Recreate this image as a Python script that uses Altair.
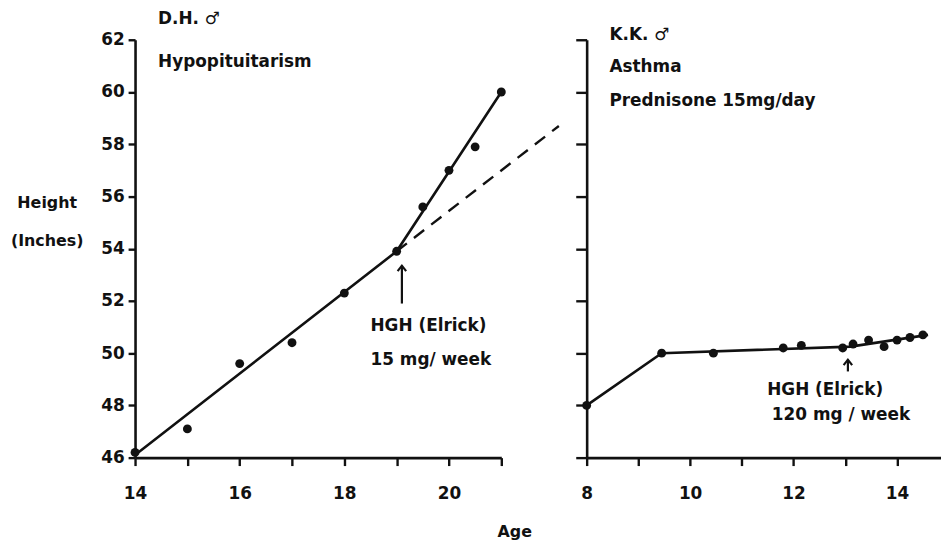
import altair as alt
import pandas as pd

# ---- data ----
left_age = [14, 15, 16, 17, 18, 19, 19.5, 20, 20.5, 21]
left_height = [46.2, 47.1, 49.6, 50.4, 52.3, 53.9, 55.6, 57.0, 57.9, 60.0]
left_fit_age = [14, 19, 21]
left_fit_height = [46.1, 53.9, 60.0]
left_proj_age = [19, 22.1]
left_proj_height = [53.9, 58.7]

right_age = [8, 9.45, 10.45, 11.8, 12.15, 12.95, 13.15, 13.45, 13.75, 14.0, 14.25, 14.5]
right_height = [48.0, 50.0, 50.0, 50.2, 50.3, 50.2, 50.35, 50.5, 50.25, 50.5, 50.6, 50.7]
right_fit_age = [8, 9.45, 13.1, 14.6]
right_fit_height = [48.0, 50.0, 50.25, 50.7]

left_arrow = {"age": [19.1], "height": [51.9], "height2": [53.35]}
right_arrow = {"age": [13.05], "height": [49.3], "height2": [49.75]}

left_notes = {
    "age": [14.44, 14.44, 18.5, 18.5],
    "height": [62.78, 61.15, 51.05, 49.72],
    "text": ["D.H. \u2642", "Hypopituitarism", "HGH (Elrick)", "15 mg/ week"],
}
right_notes = {
    "age": [8.44, 8.44, 8.44, 11.49, 11.58],
    "height": [62.2, 60.95, 59.65, 48.6, 47.64],
    "text": ["K.K. \u2642", "Asthma", "Prednisone  15mg/day", "HGH (Elrick)", "120 mg / week"],
}

y_ticks = list(range(46, 63, 2))
left_x_ticks = list(range(14, 22))
right_x_ticks = list(range(8, 15))

FONT = "DejaVu Sans"
INK = "#111111"

even_labels = "datum.value % 2 == 0 ? format(datum.value, 'd') : ''"


def panel(pts, fit, proj, arrow, notes, xdom, width, x_axis, y_axis):
    xs = alt.Scale(domain=xdom, nice=False, zero=False)
    ys = alt.Scale(domain=[46, 62], nice=False, zero=False)
    X = alt.X("age:Q", scale=xs, axis=x_axis)
    Y = alt.Y("height:Q", scale=ys, axis=y_axis)

    layers = []
    layers.append(
        alt.Chart(pd.DataFrame(fit)).mark_line(color=INK, strokeWidth=2.6).encode(x=X, y=Y)
    )
    if proj is not None:
        layers.append(
            alt.Chart(pd.DataFrame(proj))
            .mark_line(color=INK, strokeWidth=2.4, strokeDash=[13, 9], clip=False)
            .encode(x=X, y=Y)
        )
    layers.append(
        alt.Chart(pd.DataFrame(pts))
        .mark_circle(color=INK, size=80, opacity=1)
        .encode(x=X, y=Y)
    )
    adf = pd.DataFrame(arrow)
    layers.append(
        alt.Chart(adf).mark_rule(color=INK, strokeWidth=2.2).encode(
            x=X, y=Y, y2="height2:Q"
        )
    )
    layers.append(
        alt.Chart(adf)
        .mark_point(
            shape="M -0.7 0.9 L 0 0 L 0.7 0.9",
            filled=False,
            stroke=INK,
            strokeWidth=2.2,
            size=150,
            opacity=1,
        )
        .encode(x=X, y=alt.Y("height2:Q", scale=ys, axis=y_axis))
    )
    layers.append(
        alt.Chart(pd.DataFrame(notes))
        .mark_text(
            align="left",
            baseline="middle",
            font=FONT,
            fontSize=17,
            fontWeight="bold",
            color=INK,
        )
        .encode(x=X, y=Y, text="text:N")
    )
    return alt.layer(*layers).properties(width=width, height=421)


left_pts = {"age": left_age, "height": left_height}
left_fit = {"age": left_fit_age, "height": left_fit_height}
left_proj = {"age": left_proj_age, "height": left_proj_height}
right_pts = {"age": right_age, "height": right_height}
right_fit = {"age": right_fit_age, "height": right_fit_height}

left_x_axis = alt.Axis(
    values=left_x_ticks,
    labelExpr=even_labels,
    title="Age",
    titleX=382,
    titleY=74,
    titleAlign="center",
    titleBaseline="middle",
    tickSize=8,
    labelBaseline="middle",
    labelPadding=28,
    labelFlush=False,
)
left_y_axis = alt.Axis(
    values=y_ticks,
    title=["Height", "(Inches)"],
    titleAngle=0,
    titleAlign="center",
    titleBaseline="alphabetic",
    titleX=-89,
    titleY=169,
    titleLineHeight=38,
    tickSize=7,
    labelPadding=4,
)
right_x_axis = alt.Axis(
    values=right_x_ticks,
    labelExpr=even_labels,
    title=None,
    tickSize=8,
    labelBaseline="middle",
    labelPadding=28,
    labelFlush=False,
)
right_y_axis = alt.Axis(values=y_ticks, labels=False, title=None, tickSize=11)

left = panel(left_pts, left_fit, left_proj, left_arrow, left_notes,
             [14, 21], 369, left_x_axis, left_y_axis)
right = panel(right_pts, right_fit, None, right_arrow, right_notes,
              [8, 14.85], 357, right_x_axis, right_y_axis)

chart = (
    alt.hconcat(left, right, spacing=86, bounds="flush")
    .resolve_scale(x="independent", y="independent")
    .properties(padding={"left": 2, "top": 0, "right": 0, "bottom": 0})
    .configure_view(stroke=None)
    .configure_axis(
        grid=False,
        domainColor=INK,
        domainWidth=2.6,
        tickColor=INK,
        tickWidth=2.4,
        labelColor=INK,
        labelFont=FONT,
        labelFontSize=17,
        labelFontWeight="bold",
        titleColor=INK,
        titleFont=FONT,
        titleFontSize=16,
        titleFontWeight="bold",
    )
    .configure_axisX(labelPadding=28, labelBaseline="middle", labelFlush=False, tickSize=8)
)

chart.save("out.html", embed_options={"renderer": "svg", "actions": False})
